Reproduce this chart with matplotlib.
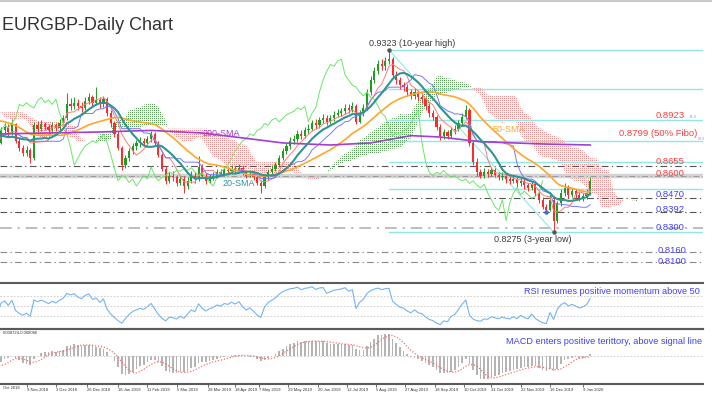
import numpy as np
import pandas as pd
import matplotlib
matplotlib.use("Agg")
import matplotlib.pyplot as plt
from matplotlib.lines import Line2D
from matplotlib.path import Path

plt.rcParams["font.family"] = ["Liberation Sans", "DejaVu Sans"]

W, H = 712, 398
UP = "#1e9e1e"
DOWN = "#ff2a2a"
TEAL = "#2f9494"
ORANGE = "#ffa62b"
PURPLE = "#a03fd3"
TENKAN = "#ff7a7a"
KIJUN = "#7777ff"
CHIKOU = "#6ae66a"
FIBO = "#93e6e6"
RED_TXT = "#ff4040"
BLUE_TXT = "#3f3fff"
DARK = "#3a3a3a"

START = "2018-10-22"   # first visible bar, one bar = 2 sessions

# closes before the visible window (only feed the indicators)
warm_closes = [
    0.8850, 0.8870, 0.8860, 0.8880, 0.8900, 0.8880, 0.8870, 0.8890, 0.8880, 0.8860,
    0.8870, 0.8890, 0.8900, 0.8920, 0.8940, 0.8960, 0.8990, 0.9010, 0.9030, 0.9050,
    0.9040, 0.9060, 0.9070, 0.9010, 0.8960, 0.8930, 0.8900, 0.8880, 0.8860, 0.8880,
    0.8880, 0.8920, 0.8900, 0.8870, 0.8840, 0.8810, 0.8780, 0.8760, 0.8770, 0.8790,
]

closes = [
    0.8860, 0.8880, 0.8850, 0.8895, 0.8800, 0.8760, 0.8730, 0.8745, 0.8700, 0.8890,
    0.8870, 0.8895, 0.8880, 0.8860, 0.8890, 0.8875, 0.8905, 0.8930, 0.9010, 0.9000,
    0.9020, 0.9000, 0.8990, 0.9030, 0.9050, 0.9020, 0.9035, 0.9010, 0.9040, 0.8960,
    0.8900, 0.8840, 0.8760, 0.8660, 0.8700, 0.8740, 0.8770, 0.8785, 0.8800, 0.8790,
    0.8810, 0.8840, 0.8790, 0.8720, 0.8640, 0.8570, 0.8600, 0.8590, 0.8560, 0.8580,
    0.8540, 0.8570, 0.8600, 0.8580, 0.8650, 0.8600, 0.8570, 0.8590, 0.8600, 0.8620,
    0.8610, 0.8630, 0.8625, 0.8640, 0.8630, 0.8645, 0.8620, 0.8600, 0.8610, 0.8590,
    0.8560, 0.8540, 0.8590, 0.8620, 0.8640, 0.8660, 0.8700, 0.8740, 0.8770, 0.8800,
    0.8810, 0.8840, 0.8830, 0.8860, 0.8870, 0.8900, 0.8890, 0.8920, 0.8930, 0.8910,
    0.8930, 0.8950, 0.8960, 0.8970, 0.8990, 0.8980, 0.9000, 0.8910, 0.8960, 0.8990,
    0.9080, 0.9150, 0.9200, 0.9240, 0.9230, 0.9260, 0.9270, 0.9180, 0.9150, 0.9120,
    0.9110, 0.9080, 0.9060, 0.9080, 0.9050, 0.9040, 0.9000, 0.8960, 0.8940, 0.8880,
    0.8830, 0.8850, 0.8830, 0.8860, 0.8870, 0.8900, 0.8940, 0.8980, 0.8790, 0.8680,
    0.8620, 0.8600, 0.8620, 0.8610, 0.8630, 0.8605, 0.8590, 0.8600, 0.8580, 0.8570,
    0.8580, 0.8555, 0.8570, 0.8545, 0.8530, 0.8550, 0.8500, 0.8460, 0.8420, 0.8400,
    0.8460, 0.8340, 0.8440, 0.8500, 0.8530, 0.8490, 0.8510, 0.8490, 0.8470, 0.8480,
    0.8500, 0.8570,
]
highs = [
    0.8880, 0.8905, 0.8895, 0.8925, 0.8905, 0.8815, 0.8775, 0.8770, 0.8760, 0.8910,
    0.8915, 0.8920, 0.8910, 0.8895, 0.8910, 0.8905, 0.8925, 0.8950, 0.9075, 0.9045,
    0.9050, 0.9040, 0.9025, 0.9055, 0.9075, 0.9065, 0.9110, 0.9050, 0.9060, 0.9050,
    0.8975, 0.8915, 0.8855, 0.8770, 0.8720, 0.8760, 0.8790, 0.8805, 0.8820, 0.8815,
    0.8830, 0.8855, 0.8850, 0.8800, 0.8730, 0.8655, 0.8620, 0.8625, 0.8605, 0.8600,
    0.8595, 0.8590, 0.8625, 0.8620, 0.8710, 0.8665, 0.8615, 0.8610, 0.8620, 0.8640,
    0.8640, 0.8650, 0.8650, 0.8660, 0.8655, 0.8665, 0.8660, 0.8635, 0.8630, 0.8625,
    0.8600, 0.8575, 0.8605, 0.8640, 0.8660, 0.8680, 0.8720, 0.8760, 0.8790, 0.8820,
    0.8835, 0.8860, 0.8860, 0.8880, 0.8895, 0.8920, 0.8925, 0.8940, 0.8955, 0.8950,
    0.8950, 0.8970, 0.8985, 0.8990, 0.9010, 0.9010, 0.9025, 0.9010, 0.8980, 0.9010,
    0.9100, 0.9175, 0.9225, 0.9265, 0.9270, 0.9285, 0.9323, 0.9280, 0.9200, 0.9170,
    0.9140, 0.9125, 0.9100, 0.9105, 0.9095, 0.9075, 0.9055, 0.9015, 0.8980, 0.8950,
    0.8895, 0.8870, 0.8865, 0.8880, 0.8890, 0.8920, 0.8960, 0.9005, 0.8990, 0.8800,
    0.8700, 0.8640, 0.8645, 0.8640, 0.8650, 0.8645, 0.8620, 0.8620, 0.8615, 0.8600,
    0.8600, 0.8595, 0.8590, 0.8585, 0.8560, 0.8570, 0.8565, 0.8515, 0.8475, 0.8435,
    0.8505, 0.8475, 0.8455, 0.8520, 0.8560, 0.8545, 0.8530, 0.8525, 0.8505, 0.8500,
    0.8520, 0.8590,
]
lows = [
    0.8780, 0.8840, 0.8830, 0.8835, 0.8785, 0.8740, 0.8715, 0.8715, 0.8670, 0.8690,
    0.8850, 0.8855, 0.8860, 0.8840, 0.8845, 0.8855, 0.8860, 0.8890, 0.8920, 0.8975,
    0.8985, 0.8980, 0.8965, 0.8975, 0.9010, 0.9000, 0.9005, 0.8990, 0.8995, 0.8945,
    0.8880, 0.8825, 0.8745, 0.8630, 0.8645, 0.8685, 0.8725, 0.8750, 0.8765, 0.8770,
    0.8775, 0.8795, 0.8775, 0.8705, 0.8625, 0.8550, 0.8555, 0.8570, 0.8540, 0.8545,
    0.8500, 0.8525, 0.8555, 0.8560, 0.8570, 0.8585, 0.8550, 0.8555, 0.8575, 0.8585,
    0.8595, 0.8600, 0.8610, 0.8610, 0.8615, 0.8615, 0.8605, 0.8585, 0.8590, 0.8575,
    0.8545, 0.8500, 0.8530, 0.8575, 0.8605, 0.8625, 0.8650, 0.8690, 0.8725, 0.8755,
    0.8780, 0.8795, 0.8810, 0.8815, 0.8840, 0.8855, 0.8870, 0.8875, 0.8900, 0.8890,
    0.8895, 0.8915, 0.8935, 0.8945, 0.8955, 0.8960, 0.8965, 0.8895, 0.8900, 0.8945,
    0.8980, 0.9065, 0.9135, 0.9185, 0.9205, 0.9210, 0.9240, 0.9160, 0.9130, 0.9100,
    0.9085, 0.9060, 0.9040, 0.9040, 0.9030, 0.9020, 0.8980, 0.8940, 0.8920, 0.8860,
    0.8805, 0.8810, 0.8810, 0.8815, 0.8840, 0.8855, 0.8885, 0.8925, 0.8770, 0.8660,
    0.8600, 0.8585, 0.8585, 0.8590, 0.8595, 0.8590, 0.8575, 0.8575, 0.8560, 0.8550,
    0.8555, 0.8535, 0.8540, 0.8525, 0.8510, 0.8515, 0.8485, 0.8440, 0.8405, 0.8392,
    0.8395, 0.8275, 0.8325, 0.8425, 0.8480, 0.8470, 0.8475, 0.8470, 0.8455, 0.8455,
    0.8465, 0.8490,
]

# 200-SMA
sma200_dates = ["2018-10-22", "2019-01-04", "2019-02-13", "2019-03-25", "2019-04-24",
                "2019-05-24", "2019-07-01", "2019-07-31", "2019-08-30", "2019-09-23",
                "2019-10-23", "2019-12-10", "2020-01-15"]
sma200_vals = [0.8840, 0.8851, 0.8860, 0.8845, 0.8817, 0.8788, 0.8776, 0.8788, 0.8830,
               0.8822, 0.8795, 0.8782, 0.8776]

tick_dates = ["2018-11-09", "2018-12-03", "2018-12-26", "2019-01-18", "2019-02-11",
              "2019-03-05", "2019-03-28", "2019-04-18", "2019-05-07", "2019-05-29",
              "2019-06-20", "2019-07-12", "2019-08-05", "2019-08-27", "2019-09-18",
              "2019-10-10", "2019-10-31", "2019-11-22", "2019-12-16", "2020-01-09"]
tick_labels = ["9 Nov 2018", "3 Dec 2018", "26 Dec 2018", "18 Jan 2019", "11 Feb 2019",
               "5 Mar 2019", "28 Mar 2019", "18 Apr 2019", "7 May 2019", "29 May 2019",
               "20 Jun 2019", "12 Jul 2019", "5 Aug 2019", "27 Aug 2019", "18 Sep 2019",
               "10 Oct 2019", "31 Oct 2019", "22 Nov 2019", "16 Dec 2019", "9 Jan 2020"]

fib_ratios = [0.0, 0.214, 0.382, 0.5, 0.618, 0.764, 1.0]
dark_levels = [0.8655, 0.8470, 0.8392]
grey_levels = [0.8160, 0.8100]
band_level = 0.8600
light_level = 0.8300

# ---------------------------------------------------------------- indicators
c = pd.Series(warm_closes + closes)
hi = pd.Series(warm_closes + highs)
lo = pd.Series(warm_closes + lows)
n0 = len(warm_closes)
x = np.arange(len(c)) - n0

sma20 = c.rolling(10).mean()
sma50 = c.rolling(25).mean()
tenkan = (hi.rolling(5).max() + lo.rolling(5).min()) / 2
kijun = (hi.rolling(13).max() + lo.rolling(13).min()) / 2
span_a = ((tenkan + kijun) / 2).values
span_b = ((hi.rolling(26).max() + lo.rolling(26).min()) / 2).values
x_span = x + 13

delta = c.diff()
gain = delta.clip(lower=0).ewm(alpha=1 / 7, adjust=False).mean()
loss = (-delta.clip(upper=0)).ewm(alpha=1 / 7, adjust=False).mean()
rsi = 100 - 100 / (1 + gain / loss)

macd = c.ewm(span=6, adjust=False).mean() - c.ewm(span=13, adjust=False).mean()
signal = macd.rolling(5).mean()

def bar_pos(dates):
    return np.busday_count(START, np.array(dates, dtype="datetime64[D]")) / 2

# ---------------------------------------------------------------- layout
PX_BAR = 3.66
AX_R = 703
xl = (-0.27, -0.27 + AX_R / PX_BAR)
p_top = 0.9323 + (50 - 38) / 1737
p_bot = p_top - 240 / 1737

fig = plt.figure(figsize=(W / 100, H / 100), dpi=100)
fig.patch.set_facecolor("white")

def fpos(px, py):
    return px / W, 1 - py / H

ax = fig.add_axes([0, 1 - 278 / H, AX_R / W, 240 / H])
ax_rsi = fig.add_axes([0, 1 - 329 / H, AX_R / W, 46 / H])
ax_macd = fig.add_axes([0, 1 - 384 / H, AX_R / W, 55 / H])

ax.set_xlim(*xl)
ax.set_ylim(p_bot, p_top)
ax.axis("off")

# ichimoku cloud as dot pattern clipped to the span areas
ny, nx = 240, AX_R
yy, xx = np.mgrid[0:ny, 0:nx]
dot_mask = (yy % 2 == 0) & (xx % 2 == 0)

def dot_image(rgb, clip):
    arr = np.zeros((ny, nx, 4))
    arr[..., :3] = matplotlib.colors.to_rgb(rgb)
    arr[..., 3] = np.where(dot_mask, 0.85, 0.0)
    im = ax.imshow(arr, extent=(xl[0], xl[1], p_bot, p_top), origin="upper",
                   aspect="auto", interpolation="nearest", zorder=1)
    paths = clip.get_paths()
    if paths:
        im.set_clip_path(Path.make_compound_path(*paths), transform=ax.transData)
    else:
        im.remove()

ok = ~np.isnan(span_a) & ~np.isnan(span_b)
bear = ax.fill_between(x_span[ok], span_a[ok], span_b[ok], where=span_a[ok] < span_b[ok],
                       interpolate=True, facecolor="none", lw=0)
bull = ax.fill_between(x_span[ok], span_a[ok], span_b[ok], where=span_a[ok] >= span_b[ok],
                       interpolate=True, facecolor="none", lw=0)
dot_image("#f47c7c", bear)
dot_image("#3f8f3f", bull)

# horizontal support / resistance lines
dd = (0, (6, 3, 1.2, 3))
ax.axhline(band_level, color="#d3d3d3", lw=3.2, zorder=1.5)
ax.axhline(band_level, color="#9a9a9a", lw=0.7, ls=dd, zorder=1.6)
ax.axhline(light_level, color="#bdbdbd", lw=1.4, ls=dd, zorder=1.6)
for lv in dark_levels:
    ax.axhline(lv, color="#555555", lw=0.8, ls=dd, zorder=1.6)
for lv in grey_levels:
    ax.axhline(lv, color="#8a8a8a", lw=0.8, ls=dd, zorder=1.6)

# fibonacci retracement from the 10-year high to the 3-year low
i_hi = int(np.argmax(highs))
i_lo = int(np.argmin(lows))
f_hi, f_lo = highs[i_hi], lows[i_lo]
for r in fib_ratios:
    ax.plot([i_hi, xl[1]], [f_hi - r * (f_hi - f_lo)] * 2, color=FIBO, lw=1.0, zorder=1.7)
ax.plot([i_hi, i_lo], [f_hi, f_lo], color=FIBO, lw=0.8, zorder=1.7)

# candles
o = np.r_[warm_closes[-1], closes[:-1]]
cl = np.array(closes)
xb = np.arange(len(closes))
col = np.where(cl >= o, UP, DOWN)
ax.vlines(xb, lows, highs, colors=col, lw=0.7, zorder=3)
ax.bar(xb, np.abs(cl - o), bottom=np.minimum(cl, o), width=0.6, color=col, lw=0, zorder=3)

# ichimoku lines and moving averages
ax.plot(x, tenkan, color=TENKAN, lw=0.7, zorder=4)
ax.plot(x, kijun, color=KIJUN, lw=0.7, zorder=4)
ax.plot(x - 13, c, color=CHIKOU, lw=0.7, zorder=4)
ax.plot(x, sma50, color=ORANGE, lw=1.2, zorder=5)
ax.plot(bar_pos(sma200_dates), sma200_vals, color=PURPLE, lw=1.2, zorder=5)
ax.plot(x, sma20, color=TEAL, lw=1.5, zorder=6)

ax.plot(i_hi, f_hi, "o", ms=2.2, color="#555555", zorder=7)
ax.plot(i_lo, f_lo, "o", ms=2.2, color="#555555", zorder=7)
ax.plot(int(np.argmin(lows[:i_lo])), min(lows[:i_lo]), "o", ms=2.2, color="#4a6cd4", zorder=7)

# ---------------------------------------------------------------- RSI
ax_rsi.set_xlim(*xl)
ax_rsi.set_ylim(3, 96.4)
for lv in (70, 50, 30):
    ax_rsi.axhline(lv, color="#c8c8c8", lw=0.6, ls=(0, (2, 2)))
ax_rsi.plot(x, rsi, color="#74b4f2", lw=0.8)
ax_rsi.set_xticks([])
ax_rsi.set_yticks([])
for s in ("left", "right"):
    ax_rsi.spines[s].set_visible(False)
for s in ("top", "bottom"):
    ax_rsi.spines[s].set_color("#5a5a5a")
    ax_rsi.spines[s].set_linewidth(1.5)
ax_rsi.patch.set_alpha(0)

# ---------------------------------------------------------------- MACD
ax_macd.set_xlim(*xl)
m = np.nanmax(np.abs(macd.values[n0:]))
ax_macd.set_ylim(-m * 28 / 23, m * 27 / 23)
ax_macd.axhline(0, color="#c8c8c8", lw=0.6, ls=(0, (2, 2)))
ax_macd.bar(x, macd, width=0.45, color="#b4b4b4", lw=0)
ax_macd.plot(x, signal, color="#ff6a6a", lw=0.9, ls=(0, (1, 1.4)))
ax_macd.set_yticks([])
for s in ("left", "right"):
    ax_macd.spines[s].set_visible(False)
for s in ("top", "bottom"):
    ax_macd.spines[s].set_color("#5a5a5a")
    ax_macd.spines[s].set_linewidth(1.5)
ax_macd.set_xticks(bar_pos(tick_dates))
ax_macd.set_xticklabels(tick_labels, ha="left", fontsize=3.0, color="#333333")
ax_macd.tick_params(axis="x", length=2, width=0.5, pad=1, colors="#333333")
ax_macd.patch.set_alpha(0)

# ---------------------------------------------------------------- texts
fig.add_artist(Line2D([0, 1], [0.998, 0.998], color="#c0c0c0", lw=1.2))
fig.text(*fpos(2, 25), "EURGBP-Daily Chart", fontsize=13, color="#333333",
         ha="left", va="center")
fig.text(*fpos(3, 388), "Oct 2018", fontsize=3.0, color="#333333", va="center")
fig.text(*fpos(3, 333), "0.008724-0.008086", fontsize=3.0, color="#333333", va="center")

fig.text(*fpos(369, 44), "0.9323 (10-year high)", fontsize=6.5, color=DARK, va="center")
fig.text(*fpos(494, 240), "0.8275 (3-year low)", fontsize=6.5, color=DARK, va="center")
fig.text(*fpos(203, 133), "200-SMA", fontsize=6.5, color=PURPLE, va="center")
fig.text(*fpos(223, 183), "20-SMA", fontsize=6.5, color=TEAL, va="center")
fig.text(*fpos(493, 129), "50-SMA", fontsize=6.5, color=ORANGE, va="center")

red_labels = [("0.8923", 685, 115), ("0.8799 (50% Fibo)", 697, 134),
              ("0.8655", 685, 162), ("0.8600", 685, 174)]
blue_labels = [("0.8470", 685, 195), ("0.8392", 685, 210), ("0.8300", 685, 227),
               ("0.8160", 687, 250), ("0.8100", 687, 261)]
for t, px, py in red_labels:
    fig.text(*fpos(px, py), t, fontsize=6.8, color=RED_TXT, ha="right", va="center")
for t, px, py in blue_labels:
    fig.text(*fpos(px, py), t, fontsize=6.8, color=BLUE_TXT, ha="right", va="center")
fig.text(*fpos(690, 117), "61.8", fontsize=2.5, color="#9a9a9a", va="center")
fig.text(*fpos(698, 139), "50.0", fontsize=2.5, color="#9a9a9a", va="center")

fig.text(*fpos(700, 292), "RSI resumes positive momentum above 50", fontsize=6.6,
         color=BLUE_TXT, ha="right", va="center")
fig.text(*fpos(702, 341), "MACD enters positive terittory, above signal line", fontsize=6.6,
         color=BLUE_TXT, ha="right", va="center")

fig.savefig("out.png", dpi=100, facecolor="white")
